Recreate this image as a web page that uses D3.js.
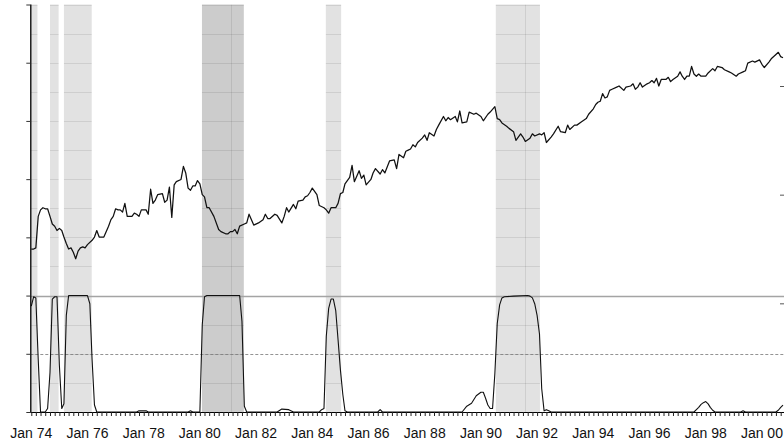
<!DOCTYPE html>
<html>
<head>
<meta charset="utf-8">
<script src="https://cdn.jsdelivr.net/npm/d3@7/dist/d3.min.js"></script>
<style>
html, body { margin: 0; padding: 0; background: #fff; }
svg { display: block; }
text { font-family: "Liberation Sans", Arial, sans-serif; }
</style>
</head>
<body>
<svg id="chart" width="784" height="441"></svg>
<script>
// ---------- DATA ----------
// Upper series (right axis units)
const lineDates = [
"1974-01","1974-02","1974-03","1974-04","1974-05","1974-06","1974-07","1974-08","1974-09","1974-10","1974-11","1974-12",
"1975-01","1975-02","1975-03","1975-04","1975-05","1975-06","1975-07","1975-08","1975-09","1975-10","1975-11","1975-12",
"1976-01","1976-03","1976-04","1976-05","1976-06","1976-08","1976-10","1976-11","1976-12",
"1977-01","1977-02","1977-03","1977-04","1977-05","1977-06","1977-08","1977-09","1977-10","1977-11","1977-12",
"1978-02","1978-03","1978-04","1978-05","1978-06","1978-07","1978-09","1978-10","1978-11","1978-12",
"1979-01","1979-02","1979-03","1979-05","1979-06","1979-07","1979-08","1979-09","1979-10","1979-11","1979-12",
"1980-01","1980-02","1980-03","1980-04","1980-05","1980-07","1980-09","1980-10","1980-12",
"1981-01","1981-02","1981-03","1981-04","1981-05","1981-06","1981-08","1981-09","1981-10","1981-12",
"1982-02","1982-04","1982-05","1982-06","1982-07","1982-09","1982-10","1982-12",
"1983-01","1983-02","1983-03","1983-05","1983-06","1983-07","1983-09","1983-10","1983-11","1983-12",
"1984-01","1984-03","1984-04","1984-06","1984-07","1984-08","1984-09","1984-11","1984-12",
"1985-01","1985-02","1985-03","1985-05","1985-06","1985-07","1985-09","1985-10","1985-11","1985-12",
"1986-02","1986-03","1986-04","1986-06","1986-07","1986-08","1986-10","1986-12",
"1987-01","1987-02","1987-04","1987-05","1987-06","1987-07","1987-08","1987-09","1987-10","1987-12",
"1988-01","1988-02","1988-03","1988-05","1988-06","1988-07","1988-09","1988-10","1988-11","1988-12",
"1989-02","1989-03","1989-04","1989-05","1989-07","1989-08","1989-10","1989-11",
"1990-01","1990-02","1990-04","1990-05","1990-07","1990-08","1990-09","1990-10","1990-12",
"1991-01","1991-03","1991-04","1991-06","1991-07","1991-08","1991-10","1991-11","1991-12",
"1992-02","1992-03","1992-04","1992-05","1992-07","1992-08","1992-10","1992-11",
"1993-01","1993-02","1993-03","1993-05","1993-06","1993-08","1993-10","1993-11",
"1994-01","1994-02","1994-03","1994-04","1994-05","1994-06","1994-07","1994-08","1994-09","1994-11","1994-12",
"1995-02","1995-03","1995-05","1995-06","1995-07","1995-08","1995-09","1995-10","1995-12",
"1996-01","1996-02","1996-03","1996-04","1996-05","1996-06","1996-07","1996-08","1996-09","1996-10","1996-11",
"1997-01","1997-02","1997-03","1997-04","1997-05","1997-06","1997-07","1997-08","1997-09","1997-10","1997-11",
"1998-01","1998-02","1998-04","1998-05","1998-06","1998-08","1998-09","1998-11","1998-12",
"1999-02","1999-03","1999-05","1999-06","1999-07","1999-09","1999-10","1999-12",
"2000-01","2000-02","2000-04","2000-05","2000-07","2000-08","2000-09","2000-10"
];
const lineValues = [
1.50,1.50,1.51,1.80,1.86,1.88,1.87,1.87,1.80,1.73,1.71,1.67,
1.69,1.67,1.61,1.55,1.50,1.51,1.47,1.41,1.48,1.51,1.52,1.51,
1.54,1.58,1.61,1.67,1.61,1.61,1.71,1.77,1.80,
1.87,1.86,1.86,1.84,1.92,1.80,1.80,1.83,1.82,1.80,1.86,
1.86,1.82,2.05,1.92,1.95,2.00,2.01,1.93,1.95,2.07,
1.79,2.09,2.12,2.14,2.26,2.20,2.06,2.04,2.08,2.08,2.13,
2.10,2.00,1.98,1.88,1.88,1.80,1.68,1.66,1.64,
1.64,1.66,1.66,1.68,1.64,1.71,1.73,1.74,1.82,1.72,
1.74,1.77,1.82,1.78,1.78,1.82,1.81,1.74,
1.80,1.88,1.84,1.91,1.87,1.94,1.95,1.98,1.99,2.02,
2.06,2.00,1.90,1.88,1.86,1.83,1.88,1.88,1.92,
2.01,2.02,2.10,2.16,2.27,2.12,2.22,2.15,2.18,2.09,
2.14,2.20,2.24,2.19,2.23,2.20,2.31,2.32,
2.24,2.37,2.34,2.40,2.41,2.42,2.46,2.44,2.48,2.52,
2.55,2.50,2.57,2.54,2.60,2.64,2.72,2.68,2.71,2.69,
2.72,2.67,2.77,2.66,2.67,2.76,2.74,2.75,
2.72,2.68,2.74,2.76,2.81,2.70,2.69,2.66,2.63,
2.61,2.58,2.50,2.56,2.53,2.49,2.52,2.56,2.54,
2.56,2.55,2.57,2.48,2.53,2.56,2.63,2.58,
2.57,2.64,2.60,2.64,2.64,2.67,2.70,2.74,
2.79,2.83,2.85,2.86,2.93,2.89,2.90,2.96,2.97,2.99,3.00,
2.96,2.99,3.00,3.02,2.97,2.99,3.03,2.99,3.02,
3.03,3.05,3.03,3.07,3.00,3.06,3.06,3.06,3.08,3.04,3.06,
3.09,3.13,3.09,3.06,3.09,3.09,3.18,3.11,3.09,3.11,3.09,
3.09,3.12,3.16,3.14,3.18,3.17,3.15,3.13,3.12,
3.09,3.11,3.13,3.14,3.21,3.23,3.22,3.24,
3.20,3.17,3.22,3.25,3.29,3.31,3.27,3.26
];

// Lower series: probability (left axis, 0..1)
const probDates = [
"1974-01","1974-02","1974-03","1974-04","1974-05","1974-07","1974-08","1974-09","1974-10","1974-11","1974-12",
"1975-01","1975-02","1975-03","1975-04","1975-05","1976-01","1976-02","1976-03","1976-04","1976-05",
"1977-10","1977-11","1978-02","1978-03","1979-08","1979-09","1979-10",
"1980-01","1980-02","1980-03","1980-04","1981-06","1981-07","1981-08","1981-09",
"1982-10","1982-12","1983-03","1983-05",
"1984-04","1984-05","1984-06","1984-07","1984-08","1984-09","1984-10","1984-11","1984-12",
"1985-01","1985-02","1985-03","1985-04","1986-05","1986-06","1986-07",
"1989-05","1989-07","1989-09","1989-11","1990-01","1990-02","1990-03","1990-04","1990-05","1990-06",
"1990-07","1990-08","1990-09","1990-10","1990-11","1991-03","1991-09","1991-10","1991-11","1991-12",
"1992-01","1992-02","1992-03","1992-04","1992-05","1992-06","1992-07",
"1997-08","1997-09","1997-10","1997-11","1997-12","1998-01","1998-02","1998-03","1998-04","1998-05",
"1999-04","1999-05","1999-06","2000-07","2000-08","2000-09","2000-10"
];
const probValues = [
0.91,0.99,0.98,0.45,0.00,0.00,0.03,0.34,0.97,0.99,0.99,
0.40,0.03,0.07,0.83,1.00,1.00,0.93,0.45,0.06,0.00,
0.00,0.01,0.01,0.00,0.00,0.01,0.00,
0.00,0.75,0.99,1.00,1.00,0.78,0.05,0.00,
0.00,0.025,0.02,0.00,
0.00,0.02,0.03,0.65,0.89,0.97,0.97,0.87,0.62,
0.36,0.15,0.01,0.00,0.00,0.02,0.00,
0.00,0.05,0.075,0.14,0.17,0.17,0.12,0.06,0.03,0.03,
0.33,0.76,0.92,0.98,0.99,0.995,1.00,0.995,0.98,0.93,
0.83,0.67,0.20,0.01,0.02,0.01,0.00,
0.00,0.02,0.04,0.065,0.08,0.09,0.07,0.04,0.015,0.00,
0.00,0.01,0.00,0.00,0.015,0.04,0.06
];

// Shaded regime periods
const bandStarts = ["1973-12-14","1974-09-01","1975-03-01","1980-01-28","1984-06-25","1990-07-13"];
const bandEnds   = ["1974-03-22","1974-12-22","1976-02-25","1981-07-25","1985-01-10","1992-02-07"];
const bandTones  = ["light","light","light","dark","light","light"];
const vGridDates = ["1981-02-13","1991-07-28"];

// Axis ticks / labels
const xLabelDates = ["1974-01","1976-01","1978-01","1980-01","1982-01","1984-01","1986-01","1988-01","1990-01","1992-01","1994-01","1996-01","1998-01","2000-01"];
const xLabels = ["Jan 74","Jan 76","Jan 78","Jan 80","Jan 82","Jan 84","Jan 86","Jan 88","Jan 90","Jan 92","Jan 94","Jan 96","Jan 98","Jan 00"];
const leftTicks = [0,0.5,1,1.5,2,2.5,3,3.5];
const rightTicks = [1,2,3];
const gridValues = [0.25,0.5,0.75,1,1.25,1.5,1.75,2,2.25,2.5,2.75,3,3.25,3.5];

// ---------- CHART ----------
const pYM = d3.timeParse("%Y-%m");
const pYMD = d3.timeParse("%Y-%m-%d");
const parse = s => s.length === 7 ? pYM(s) : pYMD(s);

const svg = d3.select("#chart");
const X0 = 30.3, X1 = 784, YTOP = 4.5, YBOT = 412;

const x = d3.scaleTime()
  .domain([new Date(1973, 11, 19), new Date(2000, 9, 14)])
  .range([X0, X1]);
const yL = d3.scaleLinear().domain([0, 3.5]).range([YBOT, YTOP]);
const yR = d3.scaleLinear().domain([0, 3.75]).range([YBOT, YTOP]);

// bands
const bands = bandStarts.map((s, i) => ({ s: parse(s), e: parse(bandEnds[i]), tone: bandTones[i] }));
const defs = svg.append("defs");
const clip = defs.append("clipPath").attr("id", "bandClip");
bands.forEach(b => {
  clip.append("rect")
    .attr("x", Math.max(X0, x(b.s))).attr("y", YTOP)
    .attr("width", x(b.e) - Math.max(X0, x(b.s))).attr("height", YBOT - YTOP);
});

svg.append("g").selectAll("rect").data(bands).join("rect")
  .attr("x", d => Math.max(X0, x(d.s)))
  .attr("y", YTOP)
  .attr("width", d => x(d.e) - Math.max(X0, x(d.s)))
  .attr("height", YBOT - YTOP)
  .attr("fill", d => d.tone === "dark" ? "#cccccc" : "#e2e2e2");

// gridlines visible within bands
const grid = svg.append("g").attr("clip-path", "url(#bandClip)")
  .attr("stroke", "rgba(0,0,0,0.085)").attr("stroke-width", 1);
grid.selectAll("line.h").data(gridValues).join("line").attr("class", "h")
  .attr("x1", X0).attr("x2", X1)
  .attr("y1", d => Math.round(yL(d)) + 0.5).attr("y2", d => Math.round(yL(d)) + 0.5);
grid.selectAll("line.v").data(vGridDates).join("line").attr("class", "v")
  .attr("x1", d => Math.round(x(parse(d))) + 0.5).attr("x2", d => Math.round(x(parse(d))) + 0.5)
  .attr("y1", YTOP).attr("y2", YBOT);

// reference lines in lower panel
svg.append("line")
  .attr("x1", X0).attr("x2", X1)
  .attr("y1", Math.round(yL(1)) + 0.5).attr("y2", Math.round(yL(1)) + 0.5)
  .attr("stroke", "#a4a4a4").attr("stroke-width", 1.3);
svg.append("line")
  .attr("x1", X0).attr("x2", X1)
  .attr("y1", Math.round(yL(0.5)) + 0.5).attr("y2", Math.round(yL(0.5)) + 0.5)
  .attr("stroke", "#777").attr("stroke-width", 0.8)
  .attr("stroke-dasharray", "3,2");

// upper series
const lineGen = d3.line()
  .x(d => x(d.date)).y(d => yR(d.v));
const upper = lineDates.map((d, i) => ({ date: parse(d), v: lineValues[i] }));
svg.append("path").datum(upper)
  .attr("d", lineGen)
  .attr("fill", "none").attr("stroke", "#111").attr("stroke-width", 1.25)
  .attr("stroke-linejoin", "round");

// probability series
const probGen = d3.line()
  .x(d => x(d.date)).y(d => yL(d.v));
const prob = probDates.map((d, i) => ({ date: parse(d), v: probValues[i] }));
svg.append("path").datum(prob)
  .attr("d", probGen)
  .attr("fill", "none").attr("stroke", "#111").attr("stroke-width", 1.1)
  .attr("stroke-linejoin", "round");

// left axis
const leftAxis = d3.axisLeft(yL).tickValues(leftTicks).tickSize(4).tickFormat("");
const gL = svg.append("g").attr("transform", `translate(${X0},0)`).call(leftAxis);
gL.select(".domain").attr("d", `M0.5,${YTOP}V${YBOT}`).attr("stroke", "#000").attr("stroke-width", 1.3);
gL.selectAll(".tick line").attr("stroke", "#333");

// right axis ticks
const rightAxis = d3.axisLeft(yR).tickValues(rightTicks).tickSize(4).tickFormat("");
const gR = svg.append("g").attr("transform", `translate(${X1},0)`).call(rightAxis);
gR.select(".domain").remove();
gR.selectAll(".tick line").attr("stroke", "#555");

// bottom axis: ticks every two months, labels every two years
const tickDates = d3.timeMonth.every(2).range(new Date(1974, 0, 1), new Date(2000, 10, 1));
const bottomAxis = d3.axisBottom(x).tickValues(tickDates).tickSize(4).tickFormat("");
const gB = svg.append("g").attr("transform", `translate(0,${YBOT})`).call(bottomAxis);
gB.select(".domain").attr("d", `M${X0},0.5H${X1}`).attr("stroke", "#000").attr("stroke-width", 1.2);
gB.selectAll(".tick line").attr("stroke", "#222");

svg.append("g").selectAll("text").data(xLabelDates).join("text")
  .attr("x", d => x(parse(d)))
  .attr("y", 438)
  .attr("text-anchor", "middle")
  .attr("font-size", 14)
  .attr("fill", "#111")
  .text((d, i) => xLabels[i]);
</script>
</body>
</html>
